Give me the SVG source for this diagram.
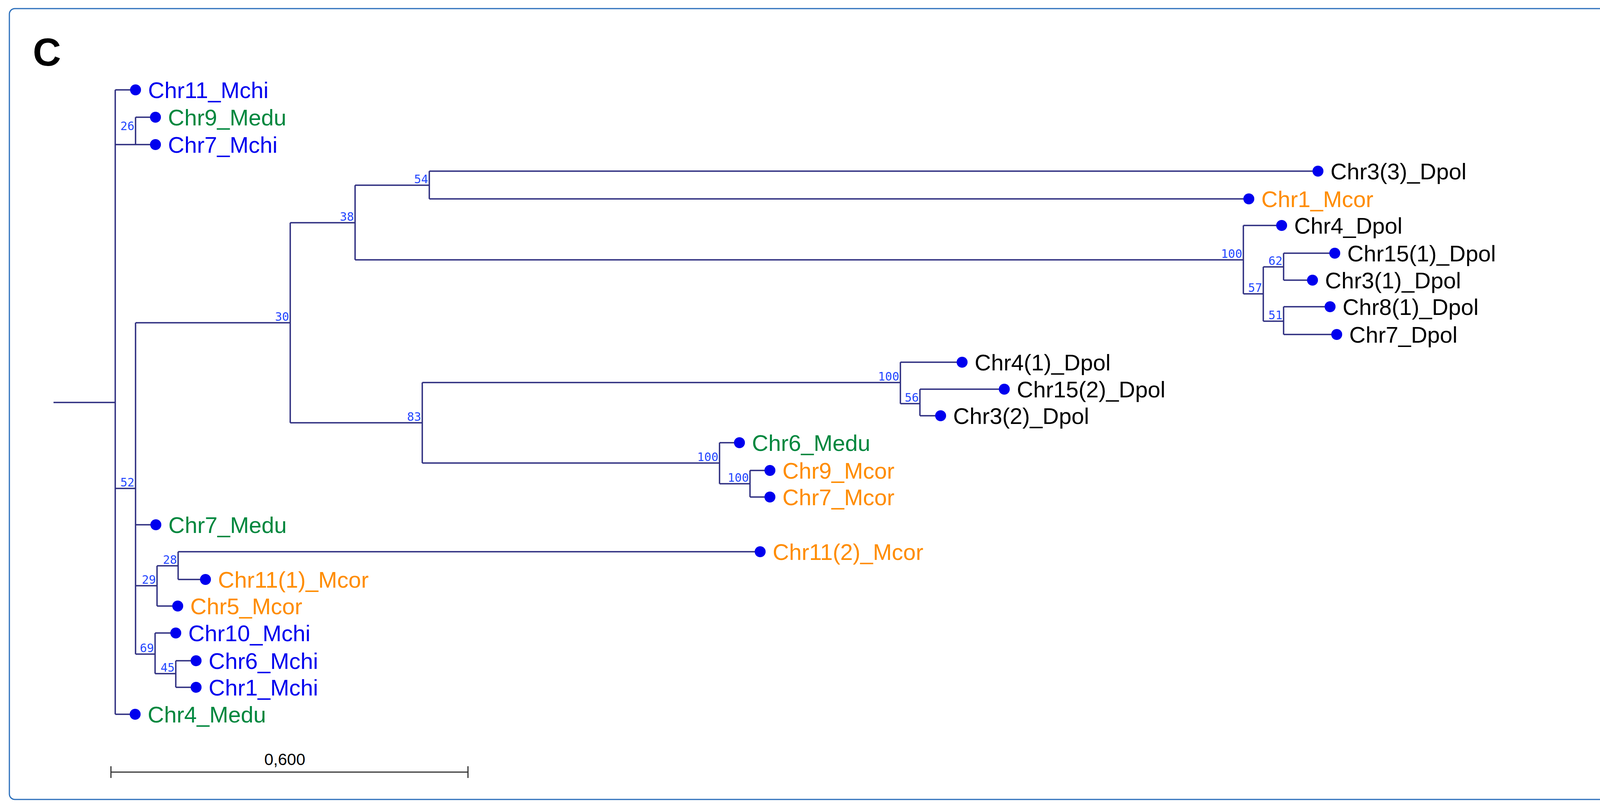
<svg xmlns="http://www.w3.org/2000/svg" width="4290" height="2073" viewBox="0 0 4290 2073">
<style>
.br{fill:none;stroke:#2e2e80;stroke-width:3.5}
.dot{fill:#0000ee}
.lb{font-family:"Liberation Sans",Arial,sans-serif;font-size:58px}
.b{fill:#0000ee}.g{fill:#00873e}.o{fill:#ff8c00}.k{fill:#000}
.bs{font-family:"DejaVu Sans Mono",monospace;font-size:30px;fill:#2448ff;text-anchor:end}
</style>
<rect x="24" y="22" width="4241" height="2024" rx="14" fill="#fff" stroke="#2a6ebb" stroke-width="3"/>
<text x="84" y="168" font-family="Liberation Sans,Arial,sans-serif" font-weight="bold" font-size="100">C</text>
<g id="connectors">
<path class="br" d="M137 1030H295M295 230V1828M295 230H347M295 370H347M347 300V370M347 300H398M347 370H398M295 1250H347M295 1828H346
M347 826V1674M347 826H743M347 1343H399M347 1499H402M347 1674H397
M743 570V1082M743 570H909M743 1082H1081
M909 474V665M909 474H1099M909 665H3183M1099 438V509M1099 438H3374M1099 509H3197
M3183 577V752M3183 577H3281M3183 752H3234M3234 683V822M3234 683H3286M3234 822H3286
M3286 648V717M3286 648H3417M3286 717H3360M3286 785V856M3286 785H3405M3286 856H3422
M1081 979V1185M1081 979H2305M1081 1185H1842
M2305 927V1033M2305 927H2463M2305 1033H2355M2355 996V1064M2355 996H2571M2355 1064H2408
M1842 1133V1238M1842 1133H1893M1842 1238H1920M1920 1204V1272M1920 1204H1971M1920 1272H1971
M402 1448V1551M402 1448H456M402 1551H455M456 1412V1483M456 1412H1946M456 1483H526
M397 1620V1724M397 1620H450M397 1724H450M450 1691V1759M450 1691H502M450 1759H502"/>
<path d="M284 1976H1198M284 1961V1991M1198 1961V1991" stroke="#333" stroke-width="3" fill="none"/>
</g>
<g id="bootstrap">
<text class="bs" x="344" y="333">26</text>
<text class="bs" x="344" y="1245">52</text>
<text class="bs" x="740" y="821">30</text>
<text class="bs" x="906" y="565">38</text>
<text class="bs" x="1096" y="469">54</text>
<text class="bs" x="3180" y="660">100</text>
<text class="bs" x="3231" y="747">57</text>
<text class="bs" x="3283" y="678">62</text>
<text class="bs" x="3283" y="817">51</text>
<text class="bs" x="1078" y="1077">83</text>
<text class="bs" x="2302" y="974">100</text>
<text class="bs" x="2352" y="1028">56</text>
<text class="bs" x="1839" y="1180">100</text>
<text class="bs" x="1917" y="1233">100</text>
<text class="bs" x="399" y="1494">29</text>
<text class="bs" x="453" y="1443">28</text>
<text class="bs" x="394" y="1669">69</text>
<text class="bs" x="447" y="1719">45</text>
</g>
<g id="n0"><circle class="dot" cx="347" cy="230" r="14"/><text class="lb b" x="379" y="251">Chr11_Mchi</text></g>
<g id="n1"><circle class="dot" cx="398" cy="300" r="14"/><text class="lb g" x="430" y="321">Chr9_Medu</text></g>
<g id="n2"><circle class="dot" cx="398" cy="370" r="14"/><text class="lb b" x="430" y="391">Chr7_Mchi</text></g>
<g id="n3"><circle class="dot" cx="3374" cy="438" r="14"/><text class="lb k" x="3406" y="459">Chr3(3)_Dpol</text></g>
<g id="n4"><circle class="dot" cx="3197" cy="509" r="14"/><text class="lb o" x="3229" y="530">Chr1_Mcor</text></g>
<g id="n5"><circle class="dot" cx="3281" cy="577" r="14"/><text class="lb k" x="3313" y="598">Chr4_Dpol</text></g>
<g id="n6"><circle class="dot" cx="3417" cy="648" r="14"/><text class="lb k" x="3449" y="669">Chr15(1)_Dpol</text></g>
<g id="n7"><circle class="dot" cx="3360" cy="717" r="14"/><text class="lb k" x="3392" y="738">Chr3(1)_Dpol</text></g>
<g id="n8"><circle class="dot" cx="3405" cy="785" r="14"/><text class="lb k" x="3437" y="806">Chr8(1)_Dpol</text></g>
<g id="n9"><circle class="dot" cx="3422" cy="856" r="14"/><text class="lb k" x="3454" y="877">Chr7_Dpol</text></g>
<g id="n10"><circle class="dot" cx="2463" cy="927" r="14"/><text class="lb k" x="2495" y="948">Chr4(1)_Dpol</text></g>
<g id="n11"><circle class="dot" cx="2571" cy="996" r="14"/><text class="lb k" x="2603" y="1017">Chr15(2)_Dpol</text></g>
<g id="n12"><circle class="dot" cx="2408" cy="1064" r="14"/><text class="lb k" x="2440" y="1085">Chr3(2)_Dpol</text></g>
<g id="n13"><circle class="dot" cx="1893" cy="1133" r="14"/><text class="lb g" x="1925" y="1154">Chr6_Medu</text></g>
<g id="n14"><circle class="dot" cx="1971" cy="1204" r="14"/><text class="lb o" x="2003" y="1225">Chr9_Mcor</text></g>
<g id="n15"><circle class="dot" cx="1971" cy="1272" r="14"/><text class="lb o" x="2003" y="1293">Chr7_Mcor</text></g>
<g id="n16"><circle class="dot" cx="399" cy="1343" r="14"/><text class="lb g" x="431" y="1364">Chr7_Medu</text></g>
<g id="n17"><circle class="dot" cx="1946" cy="1412" r="14"/><text class="lb o" x="1978" y="1433">Chr11(2)_Mcor</text></g>
<g id="n18"><circle class="dot" cx="526" cy="1483" r="14"/><text class="lb o" x="558" y="1504">Chr11(1)_Mcor</text></g>
<g id="n19"><circle class="dot" cx="455" cy="1551" r="14"/><text class="lb o" x="487" y="1572">Chr5_Mcor</text></g>
<g id="n20"><circle class="dot" cx="450" cy="1620" r="14"/><text class="lb b" x="482" y="1641">Chr10_Mchi</text></g>
<g id="n21"><circle class="dot" cx="502" cy="1691" r="14"/><text class="lb b" x="534" y="1712">Chr6_Mchi</text></g>
<g id="n22"><circle class="dot" cx="502" cy="1759" r="14"/><text class="lb b" x="534" y="1780">Chr1_Mchi</text></g>
<g id="n23"><circle class="dot" cx="346" cy="1828" r="14"/><text class="lb g" x="378" y="1849">Chr4_Medu</text></g>
<text x="729" y="1958" font-family="Liberation Sans,Arial,sans-serif" font-size="42" text-anchor="middle">0,600</text>
</svg>
